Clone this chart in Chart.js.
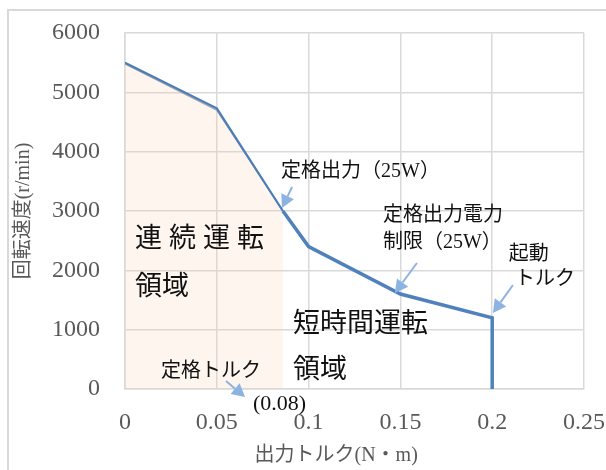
<!DOCTYPE html>
<html lang="ja">
<head>
    <meta charset="UTF-8">
    <title>回転速度-トルク特性</title>
    <style>
        body { margin: 0; background: #fff; overflow: hidden; }
        #wrap { position: relative; width: 606px; height: 470px; }
        #frame { position: absolute; left: 7px; top: 9px; width: 640px; height: 500px; border: 2px solid #d9d9d9; box-sizing: border-box; }
        canvas { position: absolute; left: 0; top: 0; }
    </style>
</head>
<body>
    <div id="wrap">
        <div id="frame"></div>
        <canvas id="myChart" width="606" height="470"></canvas>
    </div>

    <script src="https://cdn.jsdelivr.net/npm/chart.js"></script>

    <script>
        // speed / torque curve
        const torque = [0, 0.05, 0.086, 0.1, 0.15, 0.2, 0.2];
        const speed = [5500, 4730, 3000, 2400, 1600, 1200, 0];

        // continuous operation area
        const contTorque = [0, 0.05, 0.086];
        const contSpeed = [5480, 4700, 3000];

        const xTickValues = [0, 0.05, 0.1, 0.15, 0.2, 0.25];
        const xTickLabels = ['0', '0.05', '0.1', '0.15', '0.2', '0.25'];
        const yTickValues = [0, 1000, 2000, 3000, 4000, 5000, 6000];
        const yTickLabels = ['0', '1000', '2000', '3000', '4000', '5000', '6000'];

        const ctx = document.getElementById('myChart');
        const grey = '#595959';
        const serifCjk = '"Liberation Serif", "Noto Sans CJK JP"';

        function arrow(c, x0, y0, x1, y1) {
            const a = Math.atan2(y1 - y0, x1 - x0);
            const len = 13, half = 7;
            const bx = x1 - len * Math.cos(a), by = y1 - len * Math.sin(a);
            c.beginPath();
            c.moveTo(x0, y0);
            c.lineTo(bx, by);
            c.stroke();
            c.beginPath();
            c.moveTo(x1, y1);
            c.lineTo(bx + half * Math.sin(a), by - half * Math.cos(a));
            c.lineTo(bx - half * Math.sin(a), by + half * Math.cos(a));
            c.closePath();
            c.fill();
        }

        // text labels and arrows, placed in data units
        const notes = {
            id: 'notes',
            afterDraw(chart) {
                const c = chart.ctx;
                const { x, y } = chart.scales;
                const px = v => x.getPixelForValue(v);
                const py = v => y.getPixelForValue(v);

                c.save();
                c.textBaseline = 'middle';
                c.textAlign = 'left';
                c.fillStyle = '#111';

                c.font = '20px ' + serifCjk;
                c.fillText('定格出力（25W）', px(0.085), py(3658));
                c.fillText('定格出力電力', px(0.1405), py(2916));
                c.fillText('制限（25W）', px(0.1405), py(2461));
                c.fillText('起動', px(0.209), py(2259));
                c.fillText('トルク', px(0.2124), py(1837));
                c.fillText('定格トルク', px(0.0196), py(287));
                c.font = '22px ' + serifCjk;
                c.fillText('(0.08)', px(0.0697), py(-253));

                c.font = '27px "Noto Sans CJK JP"';
                c.letterSpacing = '7px';
                c.fillText('連続運転', px(0.0054), py(2562));
                c.letterSpacing = '0px';
                c.fillText('領域', px(0.0054), py(1753));
                c.fillText('短時間運転', px(0.0915), py(1129));
                c.fillText('領域', px(0.0915), py(354));

                c.strokeStyle = '#8db3e2';
                c.fillStyle = '#8db3e2';
                c.lineWidth = 2;
                arrow(c, px(0.091), py(3405), px(0.0855), py(3050));
                arrow(c, px(0.159), py(2124), px(0.147), py(1618));
                arrow(c, px(0.2113), py(1753), px(0.2004), py(1281));
                arrow(c, px(0.055), py(135), px(0.0654), py(-135));

                // x axis title
                c.fillStyle = grey;
                c.textAlign = 'center';
                c.font = '20px ' + serifCjk;
                c.fillText('出力トルク(N・m)', px(0.115), chart.chartArea.bottom + 67);
                c.restore();
            }
        };

        new Chart(ctx, {
            type: 'line',
            data: {
                datasets: [{
                    label: '回転速度',
                    data: torque.map((t, i) => ({ x: t, y: speed[i] })),
                    borderColor: '#4f81bd',
                    borderWidth: 3.5,
                    pointRadius: 0,
                    fill: false,
                    order: 0,
                    segment: {
                        borderWidth: s => s.p0DataIndex < 2 ? 2.2 : 3.5,
                        borderColor: s => s.p0DataIndex < 2 ? '#4a7ebb' : '#4f81bd'
                    }
                }, {
                    label: '連続運転領域',
                    data: contTorque.map((t, i) => ({ x: t, y: contSpeed[i] })),
                    borderColor: '#a6a6a6',
                    borderWidth: 1.5,
                    backgroundColor: 'rgba(248, 203, 173, 0.2)',
                    pointRadius: 0,
                    fill: 'origin',
                    order: 1
                }]
            },
            options: {
                responsive: false,
                animation: false,
                layout: { padding: { left: 0, top: 33, right: 22, bottom: 0 } },
                plugins: {
                    legend: { display: false },
                    tooltip: { enabled: false }
                },
                scales: {
                    x: {
                        type: 'linear',
                        min: 0,
                        max: 0.25,
                        afterBuildTicks: s => { s.ticks = xTickValues.map(v => ({ value: v })); },
                        afterFit: s => { s.height = 81; s.paddingLeft = 0; s.paddingRight = 0; },
                        ticks: {
                            callback: (v, i) => xTickLabels[i],
                            color: grey,
                            font: { family: 'Liberation Serif', size: 24 },
                            padding: 19,
                            maxRotation: 0
                        },
                        grid: { color: '#d9d9d9', lineWidth: 1.5, drawTicks: false },
                        border: { color: '#d9d9d9', width: 1.5 }
                    },
                    y: {
                        min: 0,
                        max: 6000,
                        afterBuildTicks: s => { s.ticks = yTickValues.map(v => ({ value: v })); },
                        afterFit: s => { s.width = 125; s.paddingTop = 0; s.paddingBottom = 0; },
                        ticks: {
                            callback: (v, i) => yTickLabels[i],
                            color: grey,
                            font: { family: 'Liberation Serif', size: 24 },
                            padding: 25
                        },
                        grid: { color: '#d9d9d9', lineWidth: 1.5, drawTicks: false },
                        border: { color: '#d9d9d9', width: 1.5 },
                        title: {
                            display: true,
                            text: '回転速度(r/min)',
                            color: grey,
                            font: { family: serifCjk, size: 20 },
                            padding: { top: 12, bottom: 0 }
                        }
                    }
                }
            },
            plugins: [notes]
        });
    </script>
</body>
</html>
